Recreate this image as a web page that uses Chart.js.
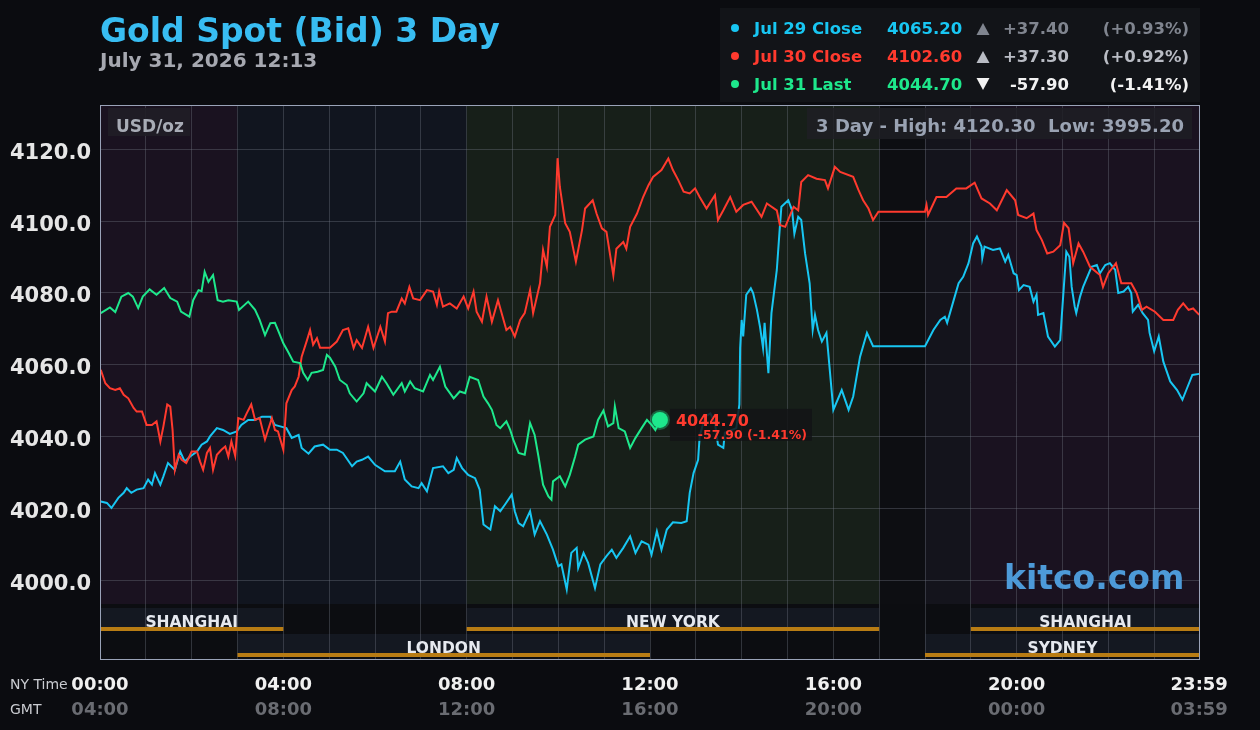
<!DOCTYPE html>
<html>
<head>
<meta charset="utf-8">
<title>Gold Spot (Bid) 3 Day</title>
<script src="https://cdn.jsdelivr.net/npm/chart.js@4.4.1/dist/chart.umd.min.js"></script>
<style>
  html, body { margin: 0; padding: 0; background: #0b0c10; }
  canvas { display: block; }
</style>
</head>
<body>
<canvas id="goldChart" width="1260" height="730"></canvas>
<script>
  // [minute of NY day, price] for each day
  const jul29Close = [
    [1,4022.0],[9,4021.6],[15,4020.2],[24,4023.0],[31,4024.4],[35,4025.7],[41,4024.4],[48,4025.3],[57,4025.7],[63,4028.1],
    [68,4026.7],[72,4029.9],[79,4026.7],[83,4029.0],[89,4032.7],[98,4030.8],[105,4035.9],[111,4033.1],[118,4034.5],[127,4035.9],
    [133,4037.8],[140,4038.7],[144,4040.1],[153,4042.4],[161,4041.9],[170,4040.8],[179,4041.5],[185,4043.3],[194,4044.7],[203,4044.7],
    [212,4045.6],[223,4045.6],[229,4043.3],[236,4042.9],[244,4042.4],[251,4039.7],[260,4040.5],[264,4036.9],[273,4035.3],[281,4037.3],
    [292,4037.8],[301,4036.4],[310,4036.4],[318,4035.5],[330,4031.8],[336,4033.1],[343,4033.6],[351,4034.5],[360,4032.2],[373,4030.4],
    [386,4030.4],[393,4033.1],[399,4028.1],[408,4026.2],[417,4025.7],[421,4027.1],[428,4024.8],[436,4031.3],[449,4031.8],[456,4029.9],
    [463,4030.8],[467,4034.1],[474,4031.3],[482,4029.4],[491,4028.5],[497,4025.3],[502,4015.6],[511,4014.2],[517,4020.7],[524,4019.3],
    [530,4021.1],[539,4023.9],[543,4019.3],[548,4016.0],[554,4015.1],[563,4019.3],[569,4012.8],[576,4016.5],[585,4012.8],[593,4008.6],
    [600,4004.0],[604,4004.5],[611,3997.5],[617,4007.7],[624,4009.1],[626,4003.5],[633,4007.7],[639,4004.9],[648,3997.9],[655,4004.5],
    [663,4006.8],[670,4008.6],[676,4006.3],[685,4009.1],[694,4012.3],[701,4007.7],[709,4010.9],[718,4010.0],[722,4007.2],[729,4013.7],
    [735,4008.6],[742,4014.2],[750,4016.2],[761,4016.0],[768,4016.5],[772,4024.4],[777,4029.9],[783,4033.6],[785,4040.1],[792,4045.6],
    [799,4046.5],[805,4043.8],[809,4037.8],[816,4036.9],[818,4041.1],[833,4042.4],[837,4049.0],[838,4064.7],[840,4072.5],[842,4067.9],
    [846,4079.5],[852,4081.3],[855,4080.0],[860,4075.3],[864,4070.6],[868,4064.7],[870,4071.7],[875,4057.7],[879,4074.4],[886,4086.4],
    [890,4098.4],[892,4104.0],[901,4105.8],[906,4103.0],[909,4096.5],[914,4101.2],[918,4100.3],[923,4091.0],[929,4082.7],[933,4069.7],
    [936,4073.9],[940,4069.7],[945,4066.5],[951,4068.9],[953,4064.2],[960,4047.5],[971,4053.0],[980,4047.5],[986,4051.2],[995,4062.3],
    [1004,4068.9],[1012,4065.2],[1080,4065.2],[1091,4069.7],[1100,4072.5],[1106,4073.4],[1109,4071.7],[1117,4077.6],[1124,4082.7],[1130,4084.5],
    [1137,4088.3],[1143,4093.8],[1148,4095.7],[1154,4092.9],[1155,4089.7],[1158,4092.9],[1169,4092.0],[1178,4092.4],[1185,4088.7],[1189,4090.6],
    [1196,4085.5],[1200,4085.0],[1203,4080.8],[1209,4082.2],[1217,4081.7],[1222,4077.6],[1226,4079.5],[1228,4073.9],[1235,4074.4],[1241,4067.9],
    [1250,4065.1],[1257,4066.9],[1259,4073.4],[1263,4085.5],[1265,4091.5],[1269,4090.1],[1272,4081.7],[1276,4076.2],[1278,4074.4],[1283,4079.0],
    [1287,4081.7],[1298,4087.3],[1305,4087.8],[1309,4085.5],[1316,4087.8],[1322,4088.3],[1329,4086.4],[1333,4080.0],[1340,4080.4],[1346,4081.7],
    [1350,4080.0],[1352,4074.8],[1359,4076.7],[1365,4074.4],[1372,4072.5],[1374,4068.9],[1380,4063.8],[1386,4067.9],[1392,4060.9],[1401,4055.4],
    [1410,4053.0],[1417,4050.3],[1423,4053.5],[1430,4057.2],[1439,4057.5]
  ];

  const jul30Close = [
    [1,4058.6],[7,4054.9],[13,4053.5],[20,4053.0],[26,4053.5],[31,4051.7],[37,4050.7],[44,4048.0],[48,4047.0],[55,4047.0],
    [61,4043.3],[68,4043.3],[74,4044.3],[79,4038.7],[83,4042.9],[88,4049.0],[92,4048.4],[95,4041.9],[98,4030.8],[103,4035.0],
    [107,4033.6],[113,4032.7],[120,4035.9],[127,4035.9],[131,4033.1],[135,4030.8],[140,4035.5],[144,4036.9],[148,4030.8],[153,4035.0],
    [159,4036.4],[164,4037.3],[168,4034.5],[172,4038.7],[177,4034.7],[181,4045.2],[188,4044.7],[192,4046.5],[198,4049.0],[203,4044.7],
    [209,4045.2],[216,4039.2],[220,4041.9],[225,4045.2],[229,4041.9],[233,4041.5],[240,4036.4],[244,4049.3],[251,4053.0],[255,4054.0],
    [260,4056.7],[264,4062.3],[271,4066.9],[275,4069.7],[279,4065.6],[284,4067.4],[288,4064.8],[301,4064.8],[310,4066.5],[318,4069.7],
    [325,4070.2],[332,4064.7],[336,4066.9],[343,4064.7],[351,4070.6],[358,4064.7],[367,4070.6],[373,4066.5],[377,4074.4],[382,4074.8],
    [388,4074.8],[395,4078.5],[399,4077.1],[405,4081.7],[410,4078.5],[419,4078.0],[428,4080.8],[436,4080.4],[441,4076.7],[444,4080.4],
    [449,4076.2],[458,4077.1],[467,4075.7],[476,4079.0],[482,4075.7],[489,4080.4],[493,4074.8],[500,4072.0],[506,4079.0],[513,4072.0],
    [521,4078.0],[532,4069.7],[537,4070.6],[543,4067.9],[550,4072.5],[556,4074.4],[563,4080.8],[567,4074.4],[572,4079.0],[576,4082.7],
    [580,4092.0],[585,4087.3],[589,4098.4],[596,4101.7],[599,4117.5],[602,4109.5],[609,4099.4],[615,4097.0],[623,4088.7],[631,4097.5],
    [635,4103.5],[645,4105.8],[650,4102.1],[657,4098.0],[663,4097.0],[672,4084.9],[676,4092.3],[685,4094.2],[689,4092.3],[694,4098.4],
    [703,4102.1],[711,4106.7],[718,4110.0],[724,4112.3],[735,4114.2],[744,4117.4],[750,4114.2],[757,4111.4],[764,4108.2],[772,4107.7],
    [779,4109.1],[785,4106.7],[794,4103.5],[805,4107.2],[809,4100.3],[816,4103.0],[825,4106.7],[833,4102.6],[842,4104.5],[853,4105.4],
    [866,4101.2],[873,4104.9],[886,4103.0],[890,4098.9],[897,4098.4],[908,4104.0],[914,4103.0],[918,4110.9],[927,4112.8],[938,4111.8],
    [949,4111.4],[953,4109.1],[962,4115.1],[969,4113.7],[986,4112.3],[993,4108.6],[999,4105.8],[1006,4103.5],[1012,4100.3],[1019,4102.6],
    [1080,4102.6],[1082,4104.5],[1084,4101.7],[1095,4106.7],[1108,4106.7],[1121,4109.1],[1134,4109.1],[1145,4110.7],[1154,4106.3],[1165,4104.9],
    [1174,4103.0],[1187,4108.6],[1198,4105.8],[1202,4101.7],[1213,4100.8],[1222,4102.1],[1226,4097.5],[1233,4094.7],[1240,4091.0],[1248,4091.5],
    [1257,4093.3],[1262,4099.5],[1268,4098.0],[1274,4088.3],[1281,4093.8],[1287,4091.5],[1296,4087.3],[1309,4085.0],[1313,4081.7],[1320,4085.5],
    [1330,4088.3],[1337,4082.7],[1350,4082.7],[1357,4080.0],[1364,4075.3],[1370,4076.2],[1381,4074.8],[1392,4072.5],[1405,4072.5],[1411,4075.3],
    [1418,4077.1],[1425,4075.3],[1431,4075.7],[1439,4073.9]
  ];

  const jul31Last = [
    [1,4074.4],[13,4076.0],[20,4074.7],[28,4079.0],[37,4080.0],[43,4079.0],[50,4075.8],[56,4079.0],[65,4081.0],[74,4079.5],
    [84,4081.4],[92,4078.6],[101,4077.6],[106,4074.8],[117,4073.4],[122,4078.0],[129,4080.8],[133,4080.5],[137,4085.9],[142,4083.1],
    [148,4085.0],[154,4078.0],[161,4077.6],[168,4078.0],[179,4077.6],[182,4075.3],[194,4077.6],[203,4075.3],[209,4072.5],[216,4068.3],
    [223,4071.6],[229,4071.7],[233,4069.7],[240,4066.0],[246,4063.7],[253,4060.9],[262,4060.5],[266,4057.8],[272,4055.8],[277,4057.8],
    [285,4058.1],[292,4058.6],[297,4062.8],[301,4062.0],[308,4059.5],[314,4055.8],[323,4054.4],[327,4052.1],[336,4049.8],[345,4052.1],
    [349,4054.9],[360,4052.6],[369,4056.7],[375,4054.9],[384,4051.7],[395,4054.9],[399,4052.6],[406,4055.4],[412,4053.5],[423,4052.6],
    [432,4057.2],[436,4055.8],[445,4059.5],[452,4054.0],[463,4050.7],[471,4052.6],[478,4052.1],[484,4056.7],[495,4055.8],[502,4051.2],
    [508,4049.3],[513,4047.5],[519,4043.3],[524,4042.4],[532,4044.3],[537,4041.9],[541,4039.2],[548,4035.5],[556,4035.0],[563,4043.8],
    [569,4040.5],[574,4034.5],[580,4026.7],[587,4023.4],[591,4022.5],[593,4027.6],[602,4029.0],[609,4026.2],[615,4029.4],[622,4034.5],
    [626,4037.8],[635,4039.2],[646,4040.1],[652,4044.7],[659,4047.3],[665,4042.9],[672,4043.8],[674,4048.4],[679,4042.4],[687,4041.5],
    [694,4036.9],[701,4039.7],[709,4042.4],[716,4044.7],[722,4043.3],[727,4041.9],[733,4044.7]
  ];

  const yTicks = [4000, 4020, 4040, 4060, 4080, 4100, 4120];
  const labelMinutes = [0, 240, 480, 720, 960, 1200, 1439];
  const nyLabels = ['00:00', '04:00', '08:00', '12:00', '16:00', '20:00', '23:59'];
  const gmtLabels = ['04:00', '08:00', '12:00', '16:00', '20:00', '00:00', '03:59'];

  const legendNames = ['Jul 29 Close', 'Jul 30 Close', 'Jul 31 Last'];
  const legendValues = ['4065.20', '4102.60', '4044.70'];
  const legendChanges = ['+37.40', '+37.30', '-57.90'];
  const legendPercents = ['(+0.93%)', '(+0.92%)', '(-1.41%)'];

  // market sessions [name, start minute, end minute, row]
  const sessions = [
    ['SHANGHAI', 0, 240, 0], ['NEW YORK', 480, 1020, 0], ['SHANGHAI', 1140, 1440, 0],
    ['LONDON', 180, 720, 1], ['SYDNEY', 1080, 1440, 1]
  ];
  // background bands [start minute, end minute]
  const bands = [[0, 180], [180, 480], [480, 1020], [1020, 1080], [1080, 1140], [1140, 1440]];
  const bandColors = ['#1a1220', '#11151f', '#171f19', '#0d0e12', '#14141c', '#1a1220'];

  const CYAN = '#18c6f2', RED = '#ff3a2e', GREEN = '#1ee88c';
  const FONT = '"DejaVu Sans"';
  const hours = [];
  for (let h = 0; h < 24; h++) hours.push(h * 60);
  hours.push(1439);

  function text(ctx, s, x, y, font, color, align) {
    ctx.font = font;
    ctx.fillStyle = color;
    ctx.textAlign = align || 'left';
    ctx.textBaseline = 'alphabetic';
    ctx.fillText(s, x, y);
  }

  const decor = {
    id: 'decor',
    beforeDraw(chart) {
      const { ctx, chartArea: a, scales: { x } } = chart;
      ctx.save();
      ctx.fillStyle = '#0b0c10';
      ctx.fillRect(0, 0, chart.width, chart.height);
      const priceBottom = a.bottom - 56;
      bands.forEach((b, i) => {
        const x0 = x.getPixelForValue(b[0]), x1 = x.getPixelForValue(b[1]);
        ctx.fillStyle = bandColors[i];
        ctx.fillRect(x0, a.top, x1 - x0, priceBottom - a.top);
      });
      ctx.fillStyle = '#0c0d11';
      ctx.fillRect(a.left, priceBottom, a.width, a.bottom - priceBottom);
      sessions.forEach(s => {
        const x0 = x.getPixelForValue(s[1]), x1 = x.getPixelForValue(s[2]);
        const top = s[3] === 0 ? a.bottom - 52 : a.bottom - 26;
        ctx.fillStyle = '#141821';
        ctx.fillRect(x0, top, x1 - x0, 23);
      });
      ctx.restore();
    },
    beforeDatasetsDraw(chart) {
      const { ctx, chartArea: a, scales: { x } } = chart;
      ctx.save();
      sessions.forEach(s => {
        const x0 = x.getPixelForValue(s[1]), x1 = x.getPixelForValue(s[2]);
        const top = s[3] === 0 ? a.bottom - 52 : a.bottom - 26;
        ctx.fillStyle = '#b87c14';
        ctx.fillRect(x0, top + 19, x1 - x0, 4);
        text(ctx, s[0], (x0 + x1) / 2, top + 19, 'bold 15.5px ' + FONT, '#e6e9ef', 'center');
      });
      ctx.restore();
    },
    afterDatasetsDraw(chart) {
      const { ctx } = chart;
      const meta = chart.getDatasetMeta(0);
      const pt = meta.data[meta.data.length - 1];
      ctx.save();
      ctx.fillStyle = 'rgba(19,20,22,0.85)';
      ctx.fillRect(pt.x + 10, pt.y - 11, 142, 32);
      text(ctx, legendValues[2], pt.x + 16, pt.y + 6, 'bold 16px ' + FONT, RED);
      text(ctx, legendChanges[2] + ' ' + legendPercents[2], pt.x + 147, pt.y + 19, 'bold 12.5px ' + FONT, RED, 'right');
      ctx.restore();
    },
    afterDraw(chart) {
      const { ctx, chartArea: a } = chart;
      ctx.save();
      // border
      ctx.strokeStyle = '#9aa3b8';
      ctx.lineWidth = 1;
      ctx.strokeRect(a.left + 0.5, a.top + 0.5, a.width - 1, a.height - 1);

      // title
      text(ctx, 'Gold Spot (Bid) 3 Day', 100, 42, 'bold 33px ' + FONT, '#38bdf2');
      text(ctx, 'July 31, 2026 12:13', 100, 67, 'bold 20px ' + FONT, '#a6a8b0');

      // legend box
      ctx.fillStyle = '#121418';
      ctx.fillRect(720, 8, 480, 94);
      const colors = [CYAN, RED, GREEN];
      const sub = ['#80858f', '#b9bcc4', '#f2f2f2'];
      for (let i = 0; i < 3; i++) {
        const base = 34 + i * 28;
        ctx.fillStyle = colors[i];
        ctx.beginPath();
        ctx.arc(735, base - 6, 4, 0, Math.PI * 2);
        ctx.fill();
        text(ctx, legendNames[i], 754, base, 'bold 16.5px ' + FONT, colors[i]);
        text(ctx, legendValues[i], 887, base, 'bold 16.5px ' + FONT, colors[i]);
        ctx.fillStyle = sub[i];
        ctx.beginPath();
        if (legendChanges[i][0] === '+') {
          ctx.moveTo(983, base - 11); ctx.lineTo(989.5, base + 1); ctx.lineTo(976.5, base + 1);
        } else {
          ctx.moveTo(976.5, base - 12); ctx.lineTo(989.5, base - 12); ctx.lineTo(983, base);
        }
        ctx.closePath();
        ctx.fill();
        text(ctx, legendChanges[i], 1069, base, 'bold 16.5px ' + FONT, sub[i], 'right');
        text(ctx, legendPercents[i], 1189, base, 'bold 16.5px ' + FONT, sub[i], 'right');
      }

      // unit and range boxes
      ctx.fillStyle = 'rgba(32,30,38,0.9)';
      ctx.fillRect(108, 108, 82, 28);
      text(ctx, 'USD/oz', 116, 132, 'bold 17px ' + FONT, '#a8acb6');
      ctx.fillStyle = 'rgba(30,31,36,0.85)';
      ctx.fillRect(807, 108, 385, 31);
      text(ctx, '3 Day - High: 4120.30  Low: 3995.20', 1184, 132, 'bold 18px ' + FONT, '#9aa3b3', 'right');

      text(ctx, 'kitco.com', 1004, 589, 'bold 33px ' + FONT, '#4d9ad8');

      text(ctx, 'NY Time', 10, 689, '14px ' + FONT, '#c9cbd0');
      text(ctx, 'GMT', 10, 714, '14px ' + FONT, '#c9cbd0');
      ctx.restore();
    }
  };

  const toXY = arr => arr.map(p => ({ x: p[0], y: p[1] }));
  const lastIdx = jul31Last.length - 1;

  new Chart(document.getElementById('goldChart'), {
    type: 'line',
    data: {
      datasets: [
        {
          label: 'Jul 31 Last',
          data: toXY(jul31Last),
          borderColor: GREEN,
          borderWidth: 2,
          pointRadius: c => c.dataIndex === lastIdx ? 8 : 0,
          pointBackgroundColor: GREEN,
          pointBorderColor: 'rgba(30,232,140,0.35)',
          pointBorderWidth: 4
        },
        { label: 'Jul 30 Close', data: toXY(jul30Close), borderColor: RED, borderWidth: 2, pointRadius: 0 },
        { label: 'Jul 29 Close', data: toXY(jul29Close), borderColor: CYAN, borderWidth: 2, pointRadius: 0 }
      ]
    },
    options: {
      responsive: false,
      animation: false,
      events: [],
      layout: { padding: { top: 105, right: 60, bottom: 0, left: 0 } },
      elements: { line: { tension: 0 } },
      plugins: { legend: { display: false }, tooltip: { enabled: false }, title: { display: false } },
      scales: {
        x: {
          type: 'linear',
          min: 0,
          max: 1440,
          afterBuildTicks: s => { s.ticks = hours.map(v => ({ value: v })); },
          afterFit: s => { s.height = 38; },
          grid: { color: 'rgba(110,115,130,0.38)', drawTicks: false },
          border: { display: false },
          ticks: {
            autoSkip: false,
            maxRotation: 0,
            padding: 15,
            color: '#f0f0f0',
            font: { family: 'DejaVu Sans', size: 18, weight: 'bold' },
            callback: v => { const i = labelMinutes.indexOf(v); return i >= 0 ? nyLabels[i] : ''; }
          }
        },
        x2: {
          type: 'linear',
          position: 'bottom',
          min: 0,
          max: 1440,
          afterBuildTicks: s => { s.ticks = labelMinutes.map(v => ({ value: v })); },
          afterFit: s => { s.height = 32; },
          grid: { display: false, drawTicks: false },
          border: { display: false },
          ticks: {
            autoSkip: false,
            maxRotation: 0,
            padding: 2,
            color: '#6a6c72',
            font: { family: 'DejaVu Sans', size: 18, weight: 'bold' },
            callback: v => { const i = labelMinutes.indexOf(v); return i >= 0 ? gmtLabels[i] : ''; }
          }
        },
        y: {
          min: 3977.9,
          max: 4132.3,
          afterBuildTicks: s => { s.ticks = yTicks.map(v => ({ value: v })); },
          afterFit: s => { s.width = 100; },
          grid: { color: 'rgba(110,115,130,0.38)', drawTicks: false },
          border: { display: false },
          ticks: {
            padding: 9,
            labelOffset: 4,
            color: '#e6e6e6',
            font: { family: 'DejaVu Sans', size: 21, weight: 'bold' },
            callback: v => v.toFixed(1)
          }
        }
      }
    },
    plugins: [decor]
  });
</script>
</body>
</html>
